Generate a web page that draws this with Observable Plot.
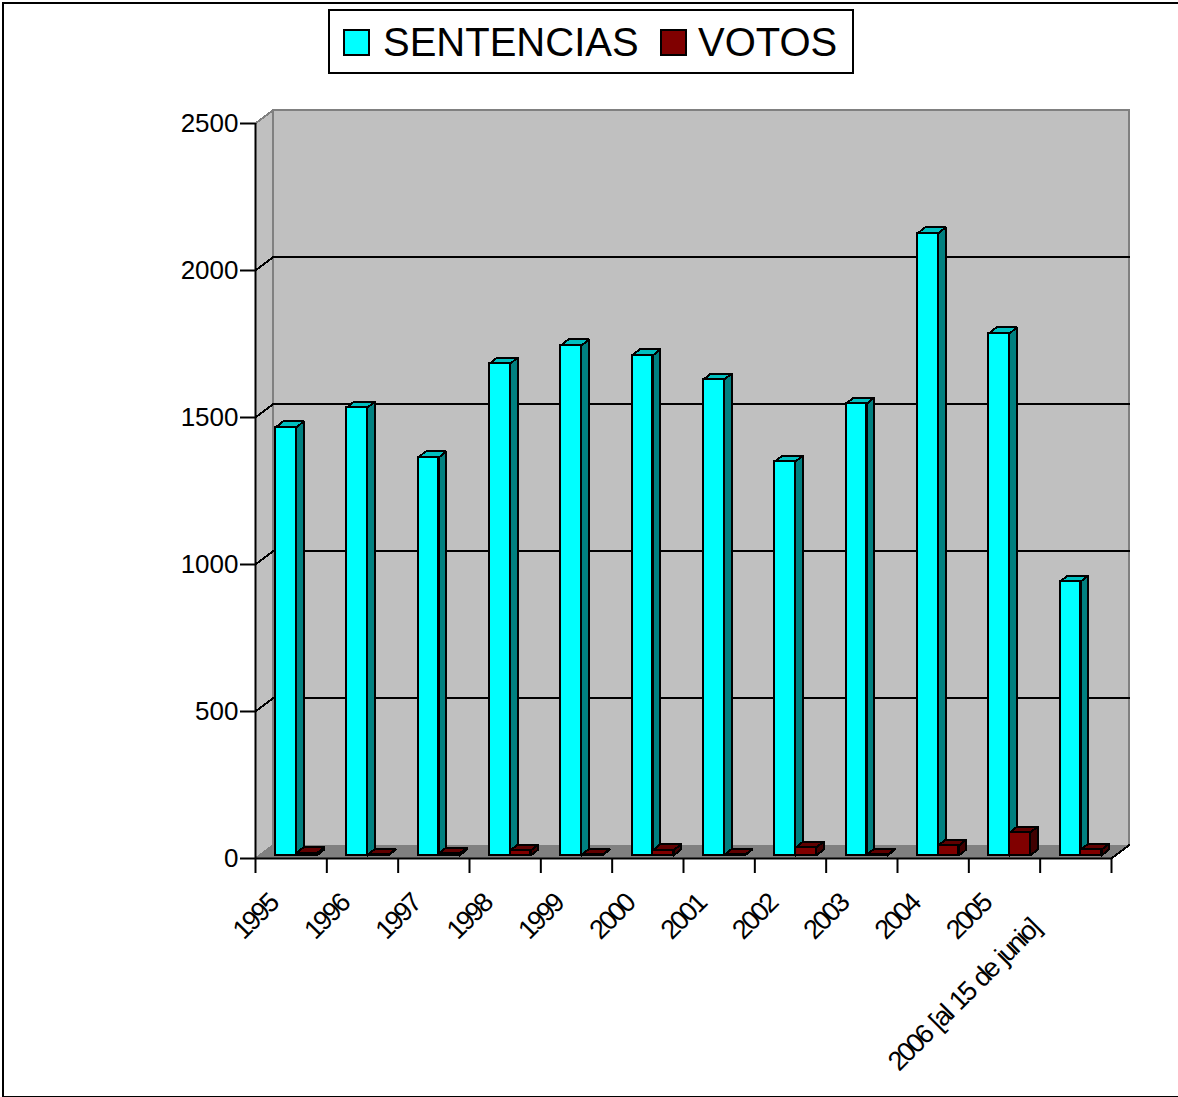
<!DOCTYPE html>
<html>
<head>
<meta charset="utf-8">
<script src="https://cdn.jsdelivr.net/npm/d3@7"></script>
<script src="https://cdn.jsdelivr.net/npm/@observablehq/plot@0.6"></script>
<style>
  html, body { margin: 0; padding: 0; background: #fff; }
  #page { position: relative; width: 1178px; height: 1097px; overflow: hidden; font-family: "Liberation Sans", Arial, sans-serif; }
  #border { position: absolute; left: 2px; top: 2px; width: 1190px; height: 1096px; border: 2px solid #000; box-sizing: border-box; pointer-events: none; }
  #legend { position: absolute; left: 328px; top: 9px; width: 526px; height: 65px; border: 2px solid #000; box-sizing: border-box; background: #fff; font-size: 40px; color: #000; }
  #legend .swatch { position: absolute; top: 18px; width: 27px; height: 27px; border: 2px solid #000; box-sizing: border-box; }
  #legend .name { position: absolute; top: 8px; line-height: 46px; white-space: nowrap; }
  svg { display: block; }
</style>
</head>
<body>
<div id="page">
  <div id="chart"></div>
  <div id="border"></div>
  <div id="legend"></div>
</div>
<script>
// Court output per year: rulings (sentencias) and separate opinions (votos).
const years = ["1995", "1996", "1997", "1998", "1999", "2000", "2001", "2002", "2003", "2004", "2005", "2006 [al 15 de junio]"];
const sentencias = [1456, 1524, 1354, 1673, 1735, 1701, 1619, 1340, 1537, 2116, 1776, 932];
const votos = [8, 2, 7, 17, 2, 18, 2, 27, 3, 34, 78, 20];
const yTicks = [0, 500, 1000, 1500, 2000, 2500];
const seriesNames = ["SENTENCIAS", "VOTOS"];

// Oblique projection of the box, in data units of the x and y scales.
const wallX = 0.2523, wallY = 46;      // offset of the back wall
const depthX = 0.105, depthY = 20.4;   // depth of one bar
const baseY = 10;                      // bars stand slightly behind the front edge
const barStart = 0.28, barWidth = 0.29;
const n = years.length;

const closed = (id, pts) => pts.map(([x, y]) => ({id, x, y}));
const shapes = (rows) => rows.flat();

function barGeometry(values, start) {
  return values.map((v, i) => ({
    x1: i + start, x2: i + start + barWidth, y1: baseY, y2: baseY + v, i
  }));
}
const topFace = (b) => closed("t" + b.i, [
  [b.x1, b.y2], [b.x2, b.y2], [b.x2 + depthX, b.y2 + depthY], [b.x1 + depthX, b.y2 + depthY]
]);
const sideFace = (b) => closed("s" + b.i, [
  [b.x2, b.y1], [b.x2 + depthX, b.y1 + depthY], [b.x2 + depthX, b.y2 + depthY], [b.x2, b.y2]
]);

const sentBars = barGeometry(sentencias, barStart);
const votoBars = barGeometry(votos, barStart + barWidth);

const backWall = closed("back", [[wallX, wallY], [n + wallX, wallY], [n + wallX, 2500 + wallY], [wallX, 2500 + wallY]]);
const sideWall = closed("left", [[0, 0], [wallX, wallY], [wallX, 2500 + wallY], [0, 2500]]);
const floor = closed("floor", [[0, 0], [n, 0], [n + wallX, wallY], [wallX, wallY]]);

const crisp = "crispEdges";
const polygon = (data, fill, stroke, strokeWidth) =>
  Plot.line(data, {x: "x", y: "y", z: "id", curve: "linear-closed", fill, stroke, strokeWidth, shapeRendering: crisp});

// Two-segment guide: across the left wall, then along the back wall.
const gridLines = shapes(yTicks.filter((t) => t > 0 && t < 2500).map((t) => [
  {id: t, x: 0, y: t}, {id: t, x: wallX, y: t + wallY}, {id: t, x: n + wallX, y: t + wallY}
]));
const wallEdges = [
  {id: "a", x: 0, y: 2500}, {id: "a", x: wallX, y: 2500 + wallY}, {id: "a", x: n + wallX, y: 2500 + wallY}, {id: "a", x: n + wallX, y: wallY},
  {id: "b", x: wallX, y: 2500 + wallY}, {id: "b", x: wallX, y: wallY}, {id: "b", x: 0, y: 0}
];
const floorEdge = [{x: n, y: 0}, {x: n + wallX, y: wallY}];

const labelFont = 26;
const rotatedFont = 27;
const shortTicks = d3.range(0, n - 1).map((i) => i + 0.5);

const chart = Plot.plot({
  width: 1178,
  height: 1097,
  marginLeft: 255,
  marginRight: 67,
  marginTop: 123,
  marginBottom: 239,
  style: {background: "transparent", fontFamily: "'Liberation Sans', Arial, sans-serif", color: "#000"},
  x: {type: "linear", domain: [0, n], label: null},
  y: {type: "linear", domain: [0, 2500], label: null},
  marks: [
    polygon(backWall, "#c0c0c0", "none"),
    polygon(sideWall, "#c0c0c0", "none"),
    polygon(floor, "#808080", "none"),
    Plot.line(wallEdges, {x: "x", y: "y", z: "id", stroke: "#808080", strokeWidth: 2, shapeRendering: crisp}),
    Plot.line(gridLines, {x: "x", y: "y", z: "id", stroke: "#000", strokeWidth: 2, shapeRendering: crisp}),
    Plot.line(floorEdge, {x: "x", y: "y", stroke: "#000", strokeWidth: 2, shapeRendering: crisp}),

    polygon(sentBars.flatMap(sideFace), "#008080", "#000", 2),
    polygon(sentBars.flatMap(topFace), "#00c0c0", "#000", 2),
    Plot.rect(sentBars, {x1: "x1", x2: "x2", y1: "y1", y2: "y2", fill: "#00ffff", stroke: "#000", strokeWidth: 2, shapeRendering: crisp}),

    polygon(votoBars.flatMap(sideFace), "#400000", "#000", 2),
    polygon(votoBars.flatMap(topFace), "#600000", "#000", 2),
    Plot.rect(votoBars, {x1: "x1", x2: "x2", y1: "y1", y2: "y2", fill: "#800000", stroke: "#000", strokeWidth: 2, shapeRendering: crisp}),

    Plot.ruleX([0], {stroke: "#000", strokeWidth: 2}),
    Plot.ruleY([0], {stroke: "#000", strokeWidth: 2}),
    Plot.axisY({ticks: yTicks, tickSize: 15, tickPadding: 2, tickFormat: "d", fontSize: labelFont, strokeWidth: 2, stroke: "#000", fill: "#000", label: null}),
    Plot.axisX({ticks: d3.range(0, n + 1), tickSize: 15, tickFormat: () => "", strokeWidth: 2, stroke: "#000", label: null}),
    Plot.axisX({
      ticks: shortTicks, tickSize: 0, tickRotate: -45, fontSize: rotatedFont,
      tickFormat: (t) => years[Math.floor(t)], textAnchor: "end", dx: -18, dy: 29, label: null
    }),
    Plot.axisX({
      ticks: [n - 0.5], tickSize: 0, tickRotate: -45, fontSize: rotatedFont,
      tickFormat: (t) => years[Math.floor(t)], textAnchor: "end", dx: -41, dy: 54, label: null
    })
  ]
});

// The slanted year labels are set tight.
chart.querySelectorAll("text").forEach((t) => {
  if ((t.getAttribute("transform") || "").includes("rotate")) {
    t.style.letterSpacing = "-2.5px";
    t.style.wordSpacing = "2.5px";
  }
});
document.getElementById("chart").append(chart);

// Legend box at the top of the page.
const legend = document.getElementById("legend");
const legendColors = ["#00ffff", "#800000"];
const swatchLeft = [13, 330];
const nameLeft = [53, 368];
seriesNames.forEach((name, i) => {
  const s = document.createElement("span");
  s.className = "swatch";
  s.style.left = swatchLeft[i] + "px";
  s.style.background = legendColors[i];
  const t = document.createElement("span");
  t.className = "name";
  t.style.left = nameLeft[i] + "px";
  t.textContent = name;
  legend.append(s, t);
});
</script>
</body>
</html>
